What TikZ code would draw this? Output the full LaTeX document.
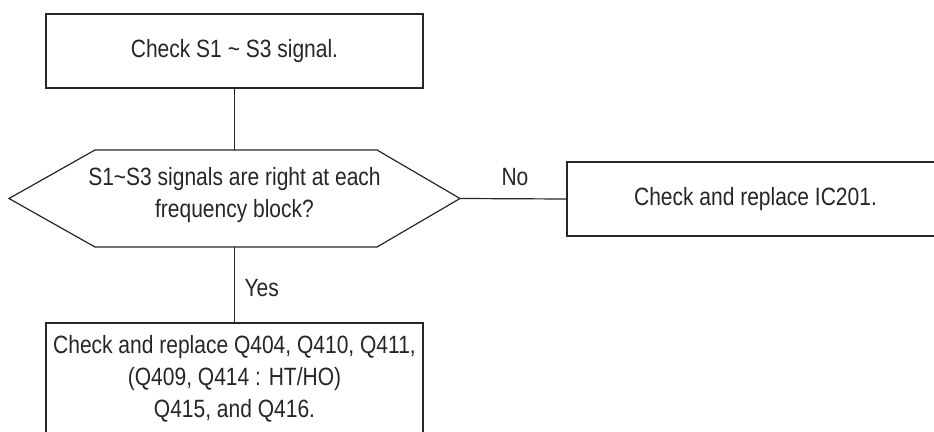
\documentclass[tikz,border=0pt]{standalone}
\usepackage{fontspec}
\setmainfont{Liberation Sans}[FakeStretch=0.84]
\begin{document}
\begin{tikzpicture}[x=1pt,y=-1pt,
  line width=1.2pt,
  every node/.style={font=\fontsize{25}{32}\selectfont, text=black!85},
  box/.style={draw=black!85, minimum width=377pt, inner sep=0pt, align=center},
  lbl/.style={inner sep=0pt}]
\useasboundingbox (0,0) rectangle (934,431);
\clip (0,0) rectangle (934,431);
% boxes
\node[box, minimum height=74pt] (b1) at (234.5,51) {Check S1 \textasciitilde{} S3 signal.};
\node[box, minimum height=74pt] (b2) at (755.5,199) {Check and replace IC201.};
\node[box, minimum height=112pt] (b3) at (234.5,379) {Check and replace Q404, Q410, Q411,\\(Q409, Q414 : HT/HO)\\Q415, and Q416.};
% decision hexagon
\coordinate (hexL) at (9,198.5);
\coordinate (hexR) at (460,198.5);
\coordinate (hexT) at (234.5,150);
\coordinate (hexB) at (234.5,247);
\draw[draw=black!85, line join=miter] (hexL) -- (95,150) -- (377,150) -- (hexR) -- (377,247) -- (95,247) -- cycle;
\node[align=center, inner sep=0pt] (dec) at (234.5,195) {S1\textasciitilde S3 signals are right at each\\frequency block?};
% connectors
\draw[draw=black!85] (b1.south) -- (hexT);
\draw[draw=black!85] (hexR) -- (b2.west);
\draw[draw=black!85] (hexB) -- (b3.north);
% labels
\node[lbl] (no) at (515,177) {No};
\node[lbl, anchor=west] (yes) at (244,288) {Yes};
\end{tikzpicture}
\end{document}
